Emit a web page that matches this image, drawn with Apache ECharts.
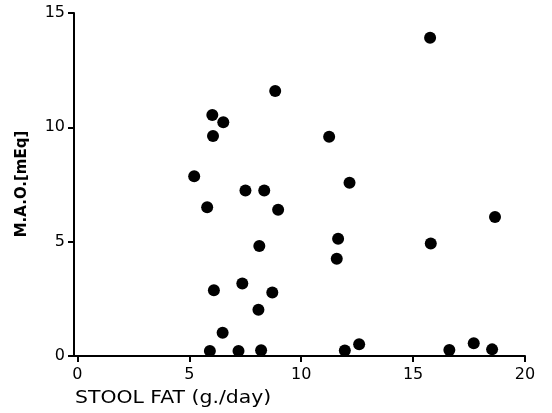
<!DOCTYPE html>
<html>
<head>
<meta charset="utf-8">
<script src="https://cdn.jsdelivr.net/npm/echarts@6/dist/echarts.min.js"></script>
<style>html,body{margin:0;padding:0;background:#fff}#c{width:552px;height:413px}</style>
</head>
<body>
<div id="c"></div>
<script>
const stoolFat = [8.84, 6.03, 6.52, 6.06, 5.22, 7.51, 8.35, 5.80, 8.97, 8.13, 6.10, 7.37, 8.71, 8.09, 6.49, 5.92, 7.20, 8.21,
                  15.76, 11.25, 12.16, 18.66, 11.65, 15.79, 11.59, 11.95, 12.59, 16.62, 17.71, 18.53];
const mao = [11.59, 10.54, 10.22, 9.62, 7.86, 7.24, 7.24, 6.50, 6.40, 4.81, 2.88, 3.17, 2.78, 2.02, 1.02, 0.22, 0.22, 0.25,
             13.92, 9.59, 7.58, 6.08, 5.13, 4.92, 4.25, 0.24, 0.51, 0.26, 0.56, 0.29];
const xTicks = [0, 5, 10, 15, 20];
const yTicks = [0, 5, 10, 15];
const xTitle = 'STOOL FAT (g./day)';
const yTitle = 'M.A.O.[mEq]';

const points = stoolFat.map((x, i) => [x, mao[i]]);
const font = 'DejaVu Sans';
const chart = echarts.init(document.getElementById('c'));
chart.setOption({
  animation: false,
  backgroundColor: '#fff',
  grid: { left: 74, right: 27, top: 13, bottom: 57 },
  xAxis: {
    type: 'value', min: -0.15, max: 20,
    splitLine: { show: false },
    axisLine: { show: true, onZero: false, lineStyle: { color: '#000', width: 2 } },
    axisTick: { show: true, customValues: xTicks, length: 6, lineStyle: { color: '#000', width: 2 } },
    axisLabel: { customValues: xTicks, color: '#000', fontFamily: font, fontSize: 16, margin: 11 }
  },
  yAxis: {
    type: 'value', min: 0, max: 15, interval: 5,
    splitLine: { show: false },
    axisLine: { show: true, onZero: false, lineStyle: { color: '#000', width: 2 } },
    axisTick: { show: true, length: 6, lineStyle: { color: '#000', width: 2 } },
    axisLabel: { color: '#000', fontFamily: font, fontSize: 16, margin: 9 }
  },
  graphic: [
    { type: 'text', x: 75, y: 399, scaleX: 1.2,
      style: { text: xTitle, fill: '#000', font: '17px "DejaVu Sans"', verticalAlign: 'middle' } },
    { type: 'text', x: 22, y: 184, rotation: Math.PI / 2,
      style: { text: yTitle, fill: '#000', font: 'bold 15px "DejaVu Sans"', align: 'center', verticalAlign: 'middle' } }
  ],
  series: [{
    type: 'scatter', data: points, symbol: 'circle', symbolSize: 12,
    itemStyle: { color: '#000', opacity: 1 }
  }]
});
</script>
</body>
</html>
